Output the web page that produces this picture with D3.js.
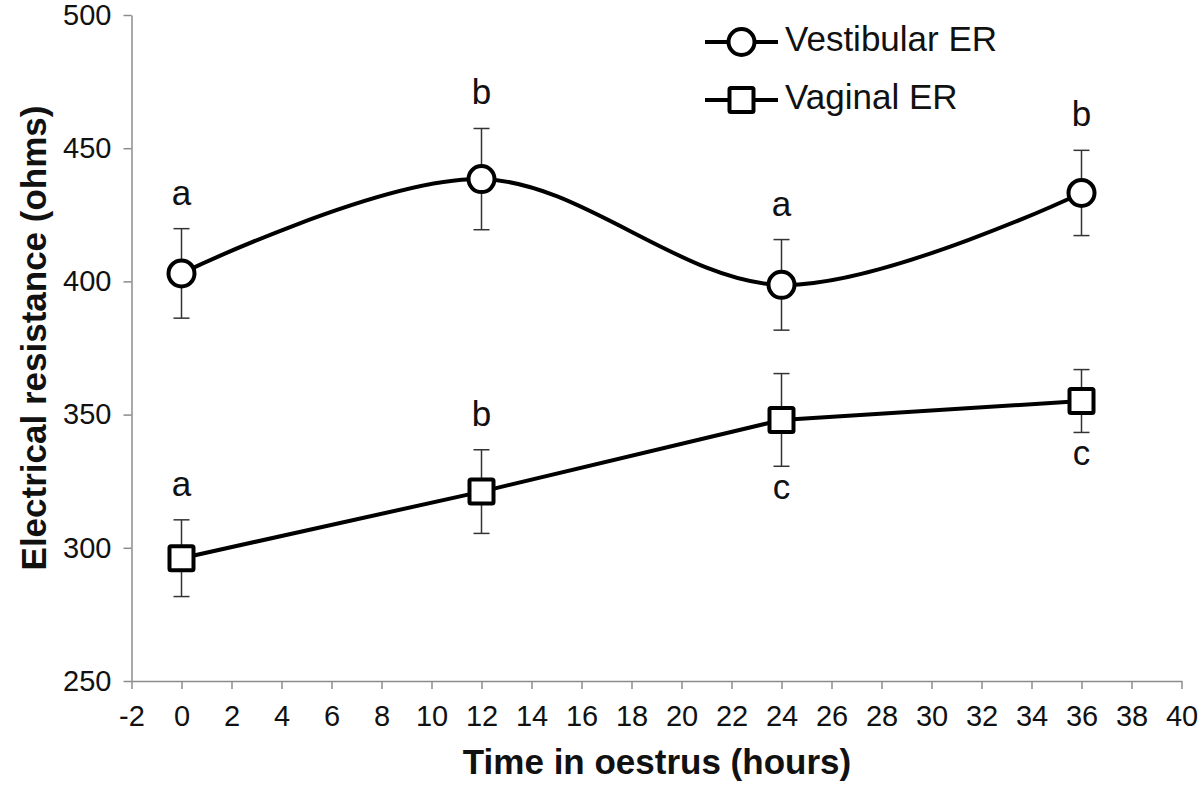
<!DOCTYPE html>
<html><head><meta charset="utf-8">
<script src="https://cdn.jsdelivr.net/npm/d3@7"></script>
<style>body{margin:0;background:#fff}svg{display:block}</style>
</head><body><svg id="c" width="1200" height="787"></svg>
<script>
const hours = [0, 12, 24, 36];
const vestibular = [403.0, 438.4, 398.7, 433.2];
const vestibularErr = [16.8, 19.0, 17.0, 16.0];
const vestibularLetters = ["a", "b", "a", "b"];
const vaginal = [296.1, 321.1, 348.0, 355.1];
const vaginalErr = [14.4, 15.7, 17.4, 11.8];
const vaginalLetters = ["a", "b", "c", "c"];
const vaginalLetterBelow = [false, false, true, true];
const xTicks = d3.range(-2, 41, 2);
const yTicks = [250, 300, 350, 400, 450, 500];

const svg = d3.select("#c");
const font = "Arial, 'Liberation Sans', sans-serif";
const x = d3.scaleLinear().domain([-2, 40]).range([131.5, 1181.5]);
const y = d3.scaleLinear().domain([250, 500]).range([681, 15]);
const axisColor = "#8c8c8c";

// Axes
const xa = svg.append("g").attr("transform", `translate(0,${y(250)})`)
  .call(d3.axisBottom(x).tickValues(xTicks).tickSize(8).tickSizeOuter(0).tickFormat(d => String(d)));
const ya = svg.append("g").attr("transform", `translate(${x(-2)},0)`)
  .call(d3.axisLeft(y).tickValues(yTicks).tickSize(8).tickSizeOuter(0).tickPadding(12));
[xa, ya].forEach(g => {
  g.select(".domain").attr("stroke", axisColor).attr("stroke-width", 1.5);
  g.selectAll(".tick line").attr("stroke", axisColor).attr("stroke-width", 1.5);
  g.selectAll(".tick text").attr("fill", "#111").style("font-family", font).style("font-size", "29px");
});
xa.selectAll(".tick text").attr("y", 45).attr("dy", 0);

// Axis titles
svg.append("text").attr("x", 657).attr("y", 774).attr("text-anchor", "middle")
  .style("font-family", font).style("font-size", "35px").style("font-weight", "bold").attr("fill", "#111")
  .text("Time in oestrus (hours)");
svg.append("text").attr("transform", "translate(46,338) rotate(-90)").attr("text-anchor", "middle")
  .style("font-family", font).style("font-size", "35px").style("font-weight", "bold").attr("fill", "#111")
  .text("Electrical resistance (ohms)");

function series(vals, errs, curve, marker, letters, below) {
  const pts = hours.map((h, i) => ({h, v: vals[i], e: errs[i], l: letters[i], b: below ? below[i] : false}));
  const g = svg.append("g");
  const eb = g.selectAll(".eb").data(pts).join("g");
  eb.append("line").attr("x1", d => x(d.h)).attr("x2", d => x(d.h))
    .attr("y1", d => y(d.v + d.e)).attr("y2", d => y(d.v - d.e)).attr("stroke", "#333").attr("stroke-width", 1.5);
  [1, -1].forEach(s => eb.append("line").attr("x1", d => x(d.h) - 8).attr("x2", d => x(d.h) + 8)
    .attr("y1", d => y(d.v + s * d.e)).attr("y2", d => y(d.v + s * d.e)).attr("stroke", "#333").attr("stroke-width", 1.5));
  g.append("path").datum(pts).attr("fill", "none").attr("stroke", "#000").attr("stroke-width", 4)
    .attr("d", d3.line().x(d => x(d.h)).y(d => y(d.v)).curve(curve));
  pts.forEach(d => drawMarker(g, marker, x(d.h), y(d.v)));
  g.selectAll(".lt").data(pts).join("text").attr("x", d => x(d.h))
    .attr("y", d => d.b ? y(d.v - d.e) + 33 : y(d.v + d.e) - 24)
    .attr("text-anchor", "middle").style("font-family", font).style("font-size", "35px").attr("fill", "#111")
    .text(d => d.l);
}
function drawMarker(g, type, cx, cy) {
  if (type === "circle") {
    g.append("circle").attr("cx", cx).attr("cy", cy).attr("r", 13).attr("fill", "#fff").attr("stroke", "#000").attr("stroke-width", 4);
  } else {
    g.append("rect").attr("x", cx - 12).attr("y", cy - 12).attr("width", 24).attr("height", 24).attr("rx", 1.5)
      .attr("fill", "#fff").attr("stroke", "#000").attr("stroke-width", 4);
  }
}
series(vestibular, vestibularErr, d3.curveCardinal.tension(0), "circle", vestibularLetters, null);
series(vaginal, vaginalErr, d3.curveLinear, "square", vaginalLetters, vaginalLetterBelow);

// Legend
const legend = [{name: "Vestibular ER", m: "circle", yy: 42}, {name: "Vaginal ER", m: "square", yy: 100}];
legend.forEach(l => {
  svg.append("line").attr("x1", 705).attr("x2", 778).attr("y1", l.yy).attr("y2", l.yy).attr("stroke", "#000").attr("stroke-width", 4);
  drawMarker(svg, l.m, 741.5, l.yy);
  svg.append("text").attr("x", 785).attr("y", l.yy + 9).style("font-family", font).style("font-size", "35px").attr("fill", "#111").text(l.name);
});
</script></body></html>
